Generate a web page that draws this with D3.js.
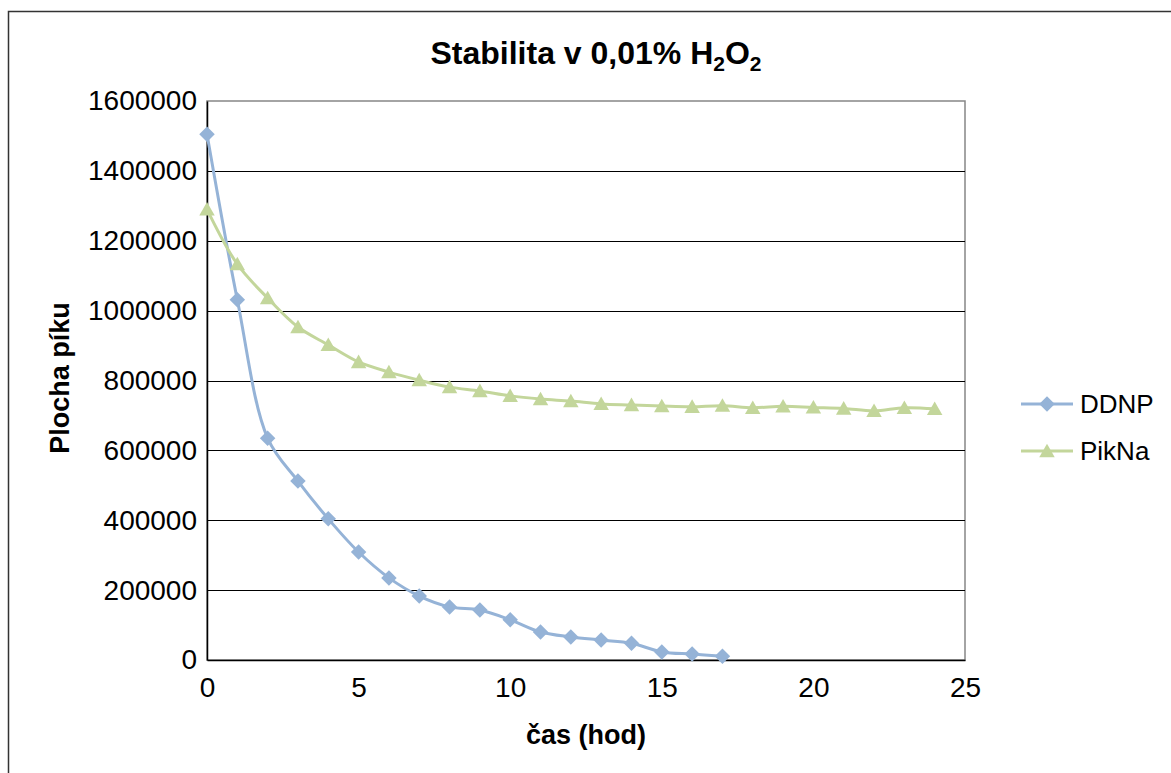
<!DOCTYPE html>
<html>
<head>
<meta charset="utf-8">
<script src="https://cdn.jsdelivr.net/npm/d3@7"></script>
<style>
  body { margin: 0; background: #fff; }
  svg { font-family: "Liberation Sans", Arial, sans-serif; }
</style>
</head>
<body>
<svg id="chart" width="1171" height="773"></svg>
<script>
// values
var hours = [0, 1, 2, 3, 4, 5, 6, 7, 8, 9, 10, 11, 12, 13, 14, 15, 16, 17, 18, 19, 20, 21, 22, 23, 24];
var ddnp = [1505000, 1031000, 635000, 512000, 404000, 309000, 235000, 183000, 152000, 143000, 115000, 80000, 66000, 57000, 48000, 23000, 17000, 11000];
var pikna = [1290000, 1133000, 1036000, 953000, 902000, 853000, 824000, 801000, 781000, 770000, 756000, 747000, 741000, 733000, 730000, 727000, 725000, 728000, 722000, 726000, 723000, 720000, 713000, 722000, 719000];
var yTicks = [0, 200000, 400000, 600000, 800000, 1000000, 1200000, 1400000, 1600000];
var xTicks = [0, 5, 10, 15, 20, 25];
var seriesNames = ["DDNP", "PikNa"];
var seriesColors = ["#95B3D7", "#C3D69B"];

var svg = d3.select("#chart");
var plotLeft = 207, plotRight = 965, plotTop = 101, plotBottom = 660;

var x = d3.scaleLinear().domain([0, 25]).range([plotLeft, plotRight]);
var y = d3.scaleLinear().domain([0, 1600000]).range([plotBottom, plotTop]);

// outer chart frame (only left/top visible in the picture)
svg.append("rect")
  .attr("x", 8.5).attr("y", 11.5)
  .attr("width", 1200).attr("height", 800)
  .attr("fill", "none").attr("stroke", "#333").attr("stroke-width", 1.5);

// plot area border
svg.append("rect")
  .attr("x", plotLeft).attr("y", plotTop)
  .attr("width", plotRight - plotLeft).attr("height", plotBottom - plotTop)
  .attr("fill", "none").attr("stroke", "#868686").attr("stroke-width", 1.5);

// gridlines
svg.append("g").selectAll("line")
  .data(yTicks.filter(function(d) { return d > 0 && d < 1600000; }))
  .enter().append("line")
  .attr("x1", plotLeft).attr("x2", plotRight)
  .attr("y1", function(d) { return Math.round(y(d)) + 0.5; })
  .attr("y2", function(d) { return Math.round(y(d)) + 0.5; })
  .attr("stroke", "#000").attr("stroke-width", 1);

// axes
var yAxis = d3.axisLeft(y).tickValues(yTicks).tickSize(0).tickPadding(10)
  .tickFormat(d3.format("d"));
var gy = svg.append("g").attr("transform", "translate(" + plotLeft + ",0)").call(yAxis);
gy.select(".domain").attr("stroke", "#000").attr("stroke-width", 1.5);
gy.selectAll("text").attr("font-size", 28).attr("fill", "#000")
  .attr("font-family", "Liberation Sans, Arial, sans-serif");

var xAxis = d3.axisBottom(x).tickValues(xTicks).tickSize(0).tickPadding(17);
var gx = svg.append("g").attr("transform", "translate(0," + plotBottom + ")").call(xAxis);
gx.select(".domain").attr("stroke", "#000").attr("stroke-width", 1.5);
gx.selectAll("text").attr("font-size", 28).attr("fill", "#000")
  .attr("font-family", "Liberation Sans, Arial, sans-serif");

// markers: excel-like diamond and triangle
var diamondType = {
  draw: function(ctx, size) {
    var r = Math.sqrt(size) / 2;
    ctx.moveTo(0, -r); ctx.lineTo(r, 0); ctx.lineTo(0, r); ctx.lineTo(-r, 0); ctx.closePath();
  }
};
var triangleType = {
  draw: function(ctx, size) {
    var w = Math.sqrt(size) / 2;
    ctx.moveTo(0, -w * 0.95); ctx.lineTo(w, w * 0.8); ctx.lineTo(-w, w * 0.8); ctx.closePath();
  }
};
var shapes = [d3.symbol().type(diamondType).size(240), d3.symbol().type(triangleType).size(240)];

// series
var series = [ddnp, pikna];
var line = d3.line()
  .x(function(d, i) { return x(hours[i]); })
  .y(function(d) { return y(d); })
  .curve(d3.curveCatmullRom.alpha(0.5));

series.forEach(function(vals, s) {
  svg.append("path")
    .attr("d", line(vals))
    .attr("fill", "none")
    .attr("stroke", seriesColors[s])
    .attr("stroke-width", 3);
  svg.append("g").selectAll("path")
    .data(vals)
    .enter().append("path")
    .attr("transform", function(d, i) { return "translate(" + x(hours[i]) + "," + y(d) + ")"; })
    .attr("d", shapes[s]())
    .attr("fill", seriesColors[s]);
});

// title
var title = svg.append("text")
  .attr("x", 596).attr("y", 64)
  .attr("text-anchor", "middle")
  .attr("font-size", 32).attr("font-weight", "bold");
title.append("tspan").text("Stabilita v 0,01% H");
title.append("tspan").attr("font-size", 21).attr("dy", 7).text("2");
title.append("tspan").attr("dy", -7).text("O");
title.append("tspan").attr("font-size", 21).attr("dy", 7).text("2");

// axis titles
svg.append("text")
  .attr("x", 586).attr("y", 744)
  .attr("text-anchor", "middle")
  .attr("font-size", 27).attr("font-weight", "bold")
  .text("čas (hod)");

svg.append("text")
  .attr("transform", "translate(69,378) rotate(-90)")
  .attr("text-anchor", "middle")
  .attr("font-size", 27).attr("font-weight", "bold")
  .text("Plocha píku");

// legend
var legend = svg.append("g");
seriesNames.forEach(function(name, s) {
  var ly = 404 + s * 47;
  legend.append("line")
    .attr("x1", 1021).attr("x2", 1073)
    .attr("y1", ly).attr("y2", ly)
    .attr("stroke", seriesColors[s]).attr("stroke-width", 3);
  legend.append("path")
    .attr("transform", "translate(1047," + ly + ")")
    .attr("d", shapes[s]())
    .attr("fill", seriesColors[s]);
  legend.append("text")
    .attr("x", 1080).attr("y", ly + 9)
    .attr("font-size", 26)
    .text(name);
});
</script>
</body>
</html>
